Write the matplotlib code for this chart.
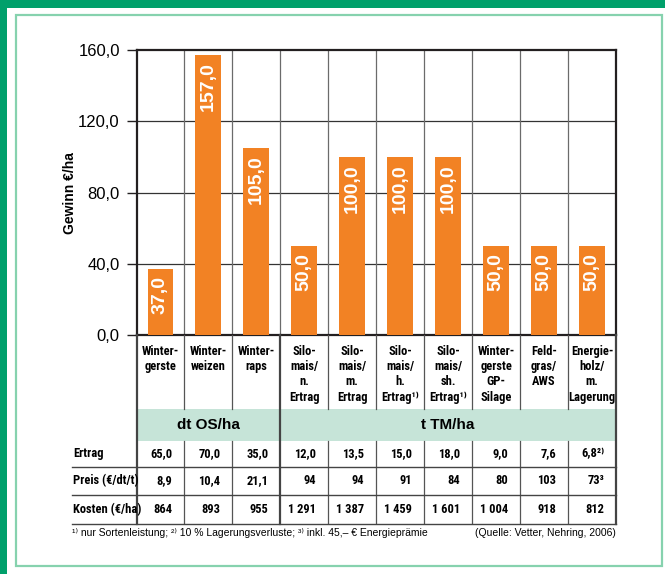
import matplotlib.pyplot as plt
from matplotlib import font_manager
from matplotlib.font_manager import FontProperties
from matplotlib.patches import Rectangle

# Gewinn je Kultur und Kenndaten
kulturen = ['Winter-\ngerste', 'Winter-\nweizen', 'Winter-\nraps',
            'Silo-\nmais/\nn.\nErtrag', 'Silo-\nmais/\nm.\nErtrag',
            'Silo-\nmais/\nh.\nErtrag¹⁾', 'Silo-\nmais/\nsh.\nErtrag¹⁾',
            'Winter-\ngerste\nGP-\nSilage', 'Feld-\ngras/\nAWS',
            'Energie-\nholz/\nm.\nLagerung']
gewinn = [37.0, 157.0, 105.0, 50.0, 100.0, 100.0, 100.0, 50.0, 50.0, 50.0]
ertrag = ['65,0', '70,0', '35,0', '12,0', '13,5', '15,0', '18,0', '9,0', '7,6', '6,8²⁾']
preis = ['8,9', '10,4', '21,1', '94', '94', '91', '84', '80', '103', '73³']
kosten = ['864', '893', '955', '1 291', '1 387', '1 459', '1 601', '1 004', '918', '812']
zeilen = ['Ertrag', 'Preis (€/dt/t)', 'Kosten (€/ha)']
einheiten = ['dt OS/ha', 't TM/ha']
gruppen = [3, 7]
y_ticks = [0, 40, 80, 120, 160]
fussnote = '¹⁾ nur Sortenleistung; ²⁾ 10 % Lagerungsverluste; ³⁾ inkl. 45,– € Energieprämie'
quelle = '(Quelle: Vetter, Nehring, 2006)'

ORANGE = '#f28224'
TEAL = '#c6e4d8'
GREEN = '#00a06b'
FRAME = '#86d2ae'
DARK = '#231f20'

plt.rcParams['font.family'] = ['Liberation Sans', 'DejaVu Sans']

# narrow bold face for the table, if one is installed
narrow_file = None
for key in ('LiberationSansNarrow-Bold', 'RobotoCondensed-Bold',
            'OpenSansCondensed-Bold', 'OpenSans_Condensed-Bold'):
    hits = [f.fname for f in font_manager.fontManager.ttflist if key in f.fname]
    if hits:
        narrow_file = hits[0]
        break
if narrow_file:
    small = 9
    nprops = dict(fontproperties=FontProperties(fname=narrow_file, size=small))
else:
    small = 7.5
    nprops = dict(fontsize=small, fontweight='bold')

W, H = 665, 574
fig = plt.figure(figsize=(W / 100, H / 100), dpi=100)


def fx(px):
    return px / W


def fy(py):
    return 1 - py / H


# frame
fig.add_artist(Rectangle((0, fy(7.5)), 1, 7.5 / H, transform=fig.transFigure,
                         color=GREEN, lw=0))
fig.add_artist(Rectangle((0, 0), fx(7), 1, transform=fig.transFigure,
                         color=GREEN, lw=0))
fig.add_artist(Rectangle((fx(16), fy(566)), fx(662 - 16), (566 - 15) / H,
                         transform=fig.transFigure, fill=False, ec=FRAME, lw=1.6))

x_left, x_right = 136.5, 616
y_top, y_zero, y_bottom = 50, 335.3, 523.5
col = (x_right - x_left) / len(gewinn)

ax = fig.add_axes([fx(x_left), fy(y_zero), fx(x_right - x_left), (y_zero - y_top) / H])
ax.set_facecolor('none')
n = len(gewinn)
xs = [i + 0.5 for i in range(n)]
ax.bar(xs, gewinn, width=0.54, color=ORANGE, zorder=3)
for x, v in zip(xs, gewinn):
    ax.annotate(f'{v:.1f}'.replace('.', ','), (x, v), xytext=(0, -5),
                textcoords='offset points', rotation=90, ha='center', va='top',
                color='white', fontsize=14, fontweight='bold', zorder=4)

ax.set_xlim(0, n)
ax.set_ylim(0, 160)
ax.set_yticks(y_ticks)
ax.set_yticklabels([f'{t:.1f}'.replace('.', ',') for t in y_ticks], fontsize=12)
ax.set_xticks([])
ax.tick_params(axis='y', length=7, width=1, pad=5, color=DARK)
for t in y_ticks[1:-1]:
    ax.axhline(t, color='#333333', lw=0.9, zorder=1)
for i in range(1, n):
    ax.axvline(i, color='#6b6b6b', lw=0.9, zorder=1)
for s in ax.spines.values():
    s.set_linewidth(1.6)
    s.set_color(DARK)
ax.set_ylabel('Gewinn €/ha', fontsize=10, fontweight='bold', labelpad=1)

# table below the chart
x0 = -(x_left - 72) / col
tb = fig.add_axes([fx(72), fy(y_bottom), fx(x_right - 72), (y_bottom - y_zero) / H])
tb.set_xlim(x0, n)
tb.set_ylim(y_bottom, y_zero)
tb.axis('off')

y_teal, y_rows = 409, 441
row_lines = [466.5, 495, 523.5]

tb.add_patch(Rectangle((0, y_teal), n, y_rows - y_teal, color=TEAL, lw=0))
for i in range(1, n):
    if i == gruppen[0]:
        continue
    tb.plot([i, i], [y_zero, y_teal], color='#555555', lw=0.9)
    tb.plot([i, i], [y_rows, y_bottom], color='#555555', lw=0.9)
for i in (0, gruppen[0], n):
    tb.plot([i, i], [y_zero, y_bottom], color='#444444', lw=1.6, clip_on=False)
for yl in row_lines:
    tb.plot([x0, n], [yl, yl], color='#444444', lw=1.0, clip_on=False)

for x, k in zip(xs, kulturen):
    tb.text(x, 345, k, ha='center', va='top', linespacing=11 / small, **nprops)

start = 0
for e, g in zip(einheiten, gruppen):
    tb.text(start + g / 2, (y_teal + y_rows) / 2, e, ha='center', va='center',
            fontsize=11, fontweight='bold')
    start += g

row_top = [y_rows] + row_lines[:-1]
for r, (lab, werte) in enumerate(zip(zeilen, [ertrag, preis, kosten])):
    yc = (row_top[r] + row_lines[r]) / 2
    tb.text(x0 + 1 / col, yc, lab, ha='left', va='center', **nprops)
    for i, w in enumerate(werte):
        tb.text(i + 0.75, yc, w, ha='right', va='center', **nprops)

fig.text(fx(72.5), fy(533), fussnote, ha='left', va='center', fontsize=7.5)
fig.text(fx(616), fy(533), quelle, ha='right', va='center', fontsize=7.5)

fig.savefig('out.png', dpi=100, facecolor='white')
